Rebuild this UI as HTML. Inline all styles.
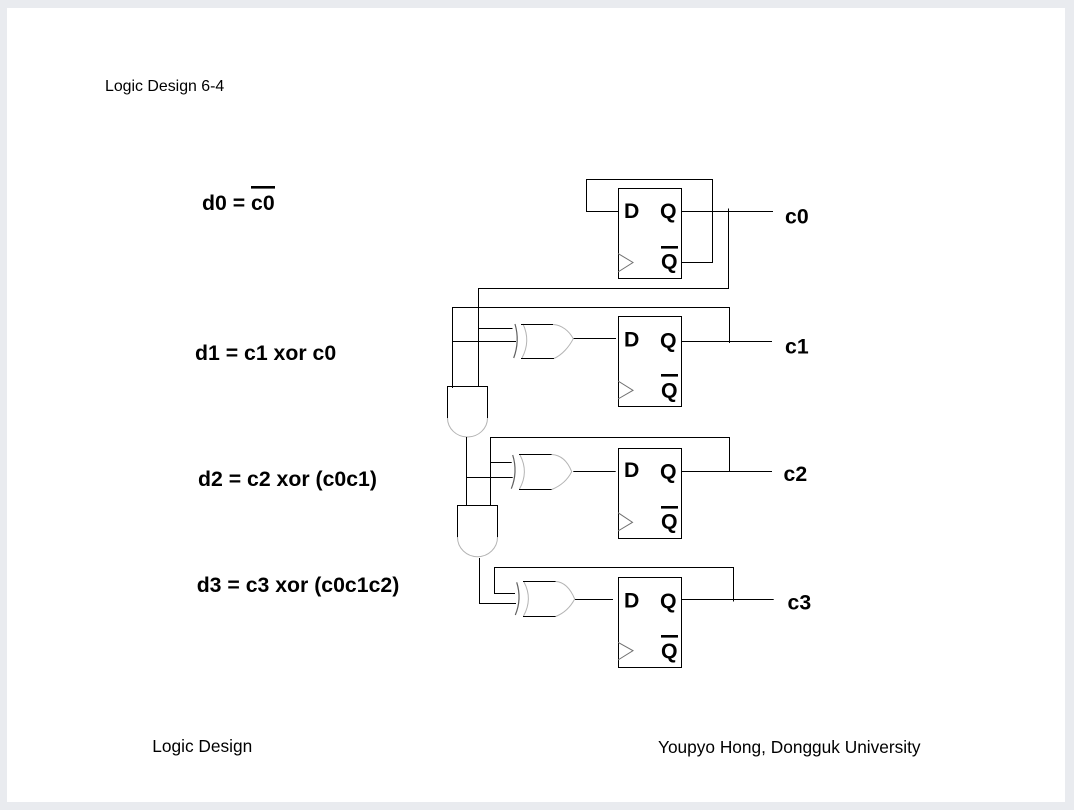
<!DOCTYPE html>
<html>
<head>
<meta charset="utf-8">
<style>
html,body{margin:0;padding:0;width:1074px;height:810px;overflow:hidden;background:#e9ebef}
svg{display:block;position:absolute;left:0;top:0}
text{font-family:"Liberation Sans",sans-serif;fill:#000}
.b{font-weight:bold;font-size:21.25px}
.l{fill:none;stroke:#000;stroke-width:1}
.g{fill:none;stroke:#b4b4b4;stroke-width:1}
.t{fill:none;stroke:#707070;stroke-width:1}
.d{fill:none;stroke:#606060;stroke-width:1.2}
</style>
</head>
<body>
<svg width="1074" height="810" viewBox="0 0 1074 810" xmlns="http://www.w3.org/2000/svg">
<rect x="7" y="8" width="1058" height="794" fill="#fff"/>

<text x="105" y="91" font-size="15.9">Logic Design 6-4</text>
<text x="152.3" y="752" font-size="17.3">Logic Design</text>
<text x="658" y="753" font-size="17.3">Youpyo Hong, Dongguk University</text>

<text class="b" x="202" y="210">d0 = c0</text>
<rect x="251" y="186" width="24" height="2.6" fill="#000"/>
<text class="b" x="195" y="360">d1 = c1 xor c0</text>
<text class="b" x="198" y="486">d2 = c2 xor (c0c1)</text>
<text class="b" x="196.7" y="592">d3 = c3 xor (c0c1c2)</text>

<!-- flip-flop boxes -->
<rect class="l" x="618.5" y="188.5" width="63" height="90"/>
<rect class="l" x="618.5" y="316.5" width="63" height="90"/>
<rect class="l" x="618.5" y="448.5" width="63" height="90"/>
<rect class="l" x="618.5" y="577.5" width="63" height="90"/>

<!-- clock triangles -->
<path class="t" d="M618 253.5L633 262.5L618 272"/>
<path class="t" d="M618 381L633 390.3L618 399"/>
<path class="t" d="M618 512.7L632.5 522.3L618 531"/>
<path class="t" d="M618 642.3L633 650.7L618 660"/>

<!-- FF labels -->
<text class="b" x="624" y="218">D</text><text class="b" x="660" y="218">Q</text>
<rect x="661" y="246" width="17" height="2.6" fill="#000"/><text class="b" x="661" y="268.5">Q</text>
<text class="b" x="624" y="346.5">D</text><text class="b" x="660" y="347.5">Q</text>
<rect x="661" y="374" width="17" height="2.6" fill="#000"/><text class="b" x="661" y="397.5">Q</text>
<text class="b" x="624" y="477">D</text><text class="b" x="660" y="478.5">Q</text>
<rect x="661" y="506" width="17" height="2.6" fill="#000"/><text class="b" x="661" y="528.5">Q</text>
<text class="b" x="624" y="607.5">D</text><text class="b" x="660" y="608">Q</text>
<rect x="661" y="635" width="17" height="2.6" fill="#000"/><text class="b" x="661" y="658">Q</text>

<!-- output labels -->
<text class="b" x="785" y="223.5">c0</text>
<text class="b" x="785" y="353.5">c1</text>
<text class="b" x="783.5" y="481">c2</text>
<text class="b" x="787.5" y="609.5">c3</text>

<!-- wires FF0 -->
<path class="l" d="M618 211.5H586.5V179.5H712.5V262.5H681.5"/>
<path class="l" d="M681.5 211.5H773"/>
<path class="l" d="M728.5 208.5V288.5H478"/>

<!-- wires FF1 -->
<path class="l" d="M478.5 288V386.5"/>
<path class="l" d="M452.5 388V307.5H729.5V343"/>
<path class="l" d="M681.5 341.5H772"/>
<path class="l" d="M478.5 328.5H512.5"/>
<path class="l" d="M452.5 341.5H516"/>
<path class="l" d="M573 338.5H616"/>

<!-- AND 1 -->
<path class="l" d="M447.5 418V386.5H487.5V418"/>
<path class="g" d="M447.5 418A20 19 0 0 0 487.5 418"/>

<!-- XOR 1 -->
<path class="d" d="M515 324Q520 341 513.7 358"/>
<path class="g" d="M523 324Q531 341 522 358"/>
<path class="l" d="M521 324.5H553M521 358.5H554"/>
<path class="g" d="M553 324.5C562 325 569 331 573.3 338.7C569 347 562 355 554 358.5"/>

<!-- wires FF2 -->
<path class="l" d="M466.5 437V505.5"/>
<path class="l" d="M490.5 505.5V437.5H729.5V471.5"/>
<path class="l" d="M681.5 471.5H772"/>
<path class="l" d="M490.5 462.5H511.7"/>
<path class="l" d="M466.5 477.5H512.7"/>
<path class="l" d="M573.3 471.5H615.7"/>

<!-- AND 2 -->
<path class="l" d="M457.5 537.3V505.5H497.5V537.3"/>
<path class="g" d="M457.5 537.3A20 19.4 0 0 0 497.5 537.3"/>

<!-- XOR 2 -->
<path class="d" d="M512.7 455Q518 472 511.3 488.7"/>
<path class="g" d="M520 455Q529 472 519.5 489"/>
<path class="l" d="M519 454.5H551.7M519 489.5H551.7"/>
<path class="g" d="M551.7 454.5C560.5 455 567.5 461 571.7 471.7C567.5 480 560.5 486 551.7 489.5"/>

<!-- wires FF3 -->
<path class="l" d="M479.5 558V603.5H516"/>
<path class="l" d="M515 593.5H494.5V567.5H733.5V601.5"/>
<path class="l" d="M681.5 599.5H773.7"/>
<path class="l" d="M575 599.5H613"/>

<!-- XOR 3 -->
<path class="d" d="M516.7 582.3Q522 599 515.3 615"/>
<path class="g" d="M524 582Q533 599 523.5 616"/>
<path class="l" d="M523 581.5H555.7M523 616.5H555.7"/>
<path class="g" d="M555.7 581.5C564.5 582 570.5 589 574.7 599C570.5 607 564.5 613 555.7 616.5"/>
</svg>
</body>
</html>
